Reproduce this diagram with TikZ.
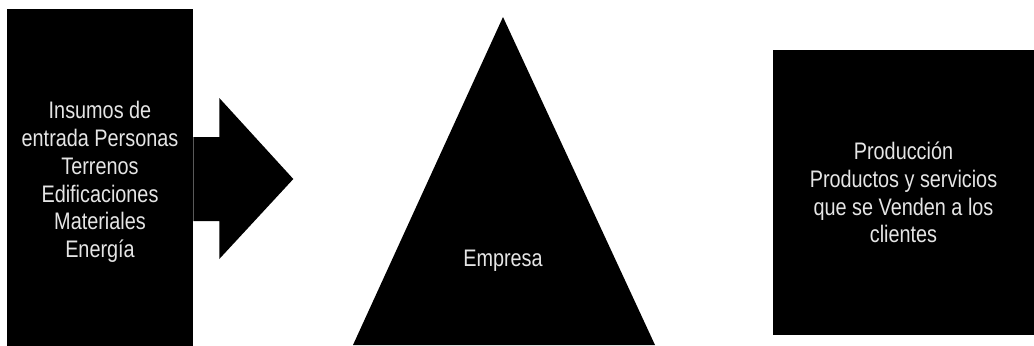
\documentclass[tikz,border=0pt]{standalone}
\usepackage{fontspec}
\setmainfont{Liberation Sans}[FakeStretch=0.83]
\usepackage{tikz}

\begin{document}
\begin{tikzpicture}[x=0.025cm, y=-0.025cm]
    \tikzstyle{block} = [fill=black, text=white!90!black, align=center,
	inner sep=0pt, font=\fontsize{17}{19.8}\selectfont]
	\useasboundingbox (0,0) rectangle (1034,345);
	\path
		node[block, minimum width=4.65cm, minimum height=8.65cm] (insumos) at (100,182)
			{Insumos de\\entrada Personas\\Terrenos\\Edificaciones\\Materiales\\Energía}
		node[block, minimum width=6.525cm, minimum height=7.125cm] (produccion) at (903.5,192.5)
			{Producción\\Productos y servicios\\que se Venden a los\\clientes};
	% flecha de entrada
	\fill (insumos.east) ++(0,-45) -- ++(26,0) -- ++(0,-39) -- ++(74,81)
		-- ++(-74,80) -- ++(0,-38) -- ++(-26,0) -- cycle;
	% empresa
	\fill (503,17) coordinate (cima) -- (655,345) -- (353,345) -- cycle;
	\node[block, fill=none] (empresa) at (503,261) {Empresa};
\end{tikzpicture}
\end{document}
